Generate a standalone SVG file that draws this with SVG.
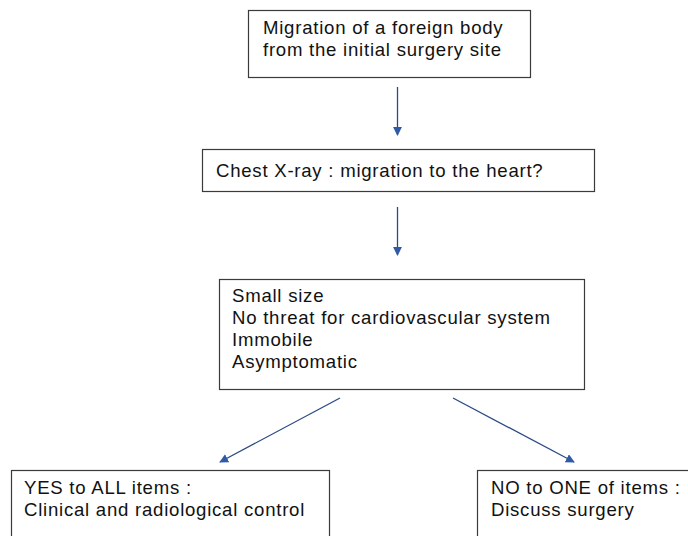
<svg xmlns="http://www.w3.org/2000/svg" width="688" height="536" viewBox="0 0 688 536">
<style>
.box{fill:#fff;stroke:#3a3a3a;stroke-width:1.2}
.t{font-family:"Liberation Sans",Arial,sans-serif;font-size:18.6px;letter-spacing:0.75px;fill:#111}
.c{stroke:#2b4a86;stroke-width:1.3;fill:none}
</style>
<defs>
<marker id="ah" viewBox="0 0 10 10" refX="9" refY="5" markerWidth="9" markerHeight="9" markerUnits="userSpaceOnUse" orient="auto">
<path d="M0,0 L10,5 L0,10 z" fill="#2f5aa8"/>
</marker>
</defs>
<rect width="688" height="536" fill="#fff"/>
<g id="n1">
<rect class="box" x="248.5" y="10.5" width="282" height="67"/>
<text class="t" x="263" y="34">Migration of a foreign body</text>
<text class="t" x="263" y="56">from the initial surgery site</text>
</g>
<g id="n2">
<rect class="box" x="202.5" y="149.5" width="392" height="42"/>
<text class="t" x="216" y="177">Chest X-ray : migration to the heart?</text>
</g>
<g id="n3">
<rect class="box" x="219.5" y="279.5" width="365" height="110"/>
<text class="t" x="232" y="302">Small size</text>
<text class="t" x="232" y="324">No threat for cardiovascular system</text>
<text class="t" x="232" y="346">Immobile</text>
<text class="t" x="232" y="368">Asymptomatic</text>
</g>
<g id="n4">
<rect class="box" x="11.5" y="470.5" width="318" height="80"/>
<text class="t" x="24" y="494">YES to ALL items :</text>
<text class="t" x="24" y="516">Clinical and radiological control</text>
</g>
<g id="n5">
<rect class="box" x="477.5" y="470.5" width="230" height="80"/>
<text class="t" x="491" y="494">NO to ONE of items :</text>
<text class="t" x="491" y="516">Discuss surgery</text>
</g>
<g id="connectors">
<line class="c" x1="397.5" y1="87" x2="397.5" y2="135" marker-end="url(#ah)"/>
<line class="c" x1="397.5" y1="207" x2="397.5" y2="255" marker-end="url(#ah)"/>
<line class="c" x1="340" y1="398" x2="220" y2="462" marker-end="url(#ah)"/>
<line class="c" x1="453" y1="398" x2="574" y2="462" marker-end="url(#ah)"/>
</g>
</svg>
